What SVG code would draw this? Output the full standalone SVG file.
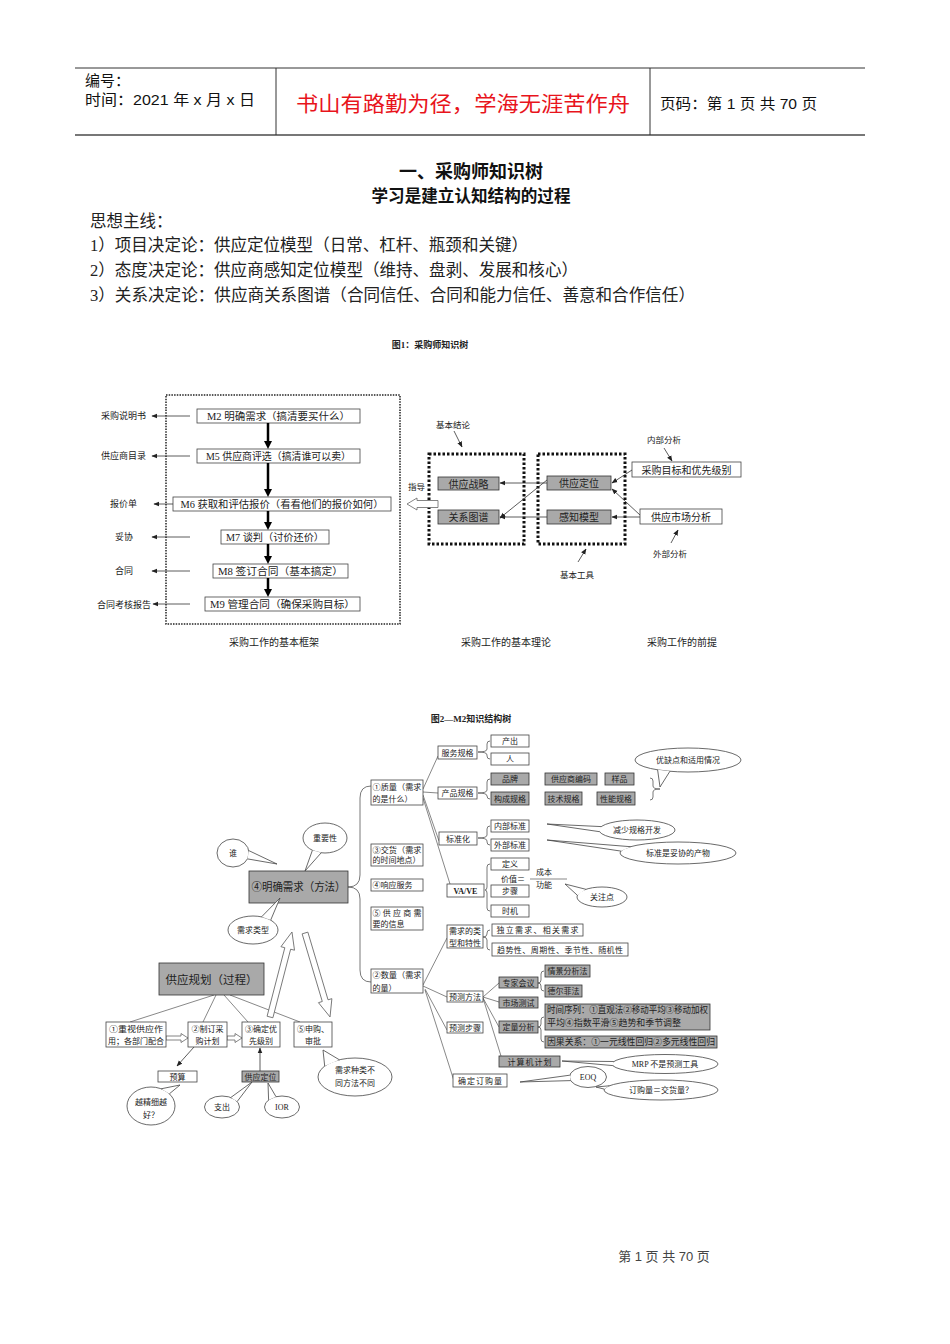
<svg xmlns="http://www.w3.org/2000/svg" width="950" height="1344" viewBox="0 0 950 1344">
<style>
text{font-family:"Liberation Serif","Noto Sans CJK SC",serif;fill:#222}
.hd{font-family:"Liberation Sans","Noto Sans CJK SC",sans-serif;fill:#111}
.cj{font-family:"Noto Sans CJK SC",sans-serif}
.c{text-anchor:middle}
.s{font-size:8px}
.m{font-size:9px}
.bx{fill:#fff;stroke:#444;stroke-width:0.8}
.gb{fill:#a9a9a9;stroke:#333;stroke-width:0.8}
.ln{fill:none;stroke:#555;stroke-width:0.7}
.br{fill:none;stroke:#555;stroke-width:0.8}
.bb{fill:#fff;stroke:#444;stroke-width:0.8}
.tl{fill:#fff;stroke:#444;stroke-width:0.8}
.ha{fill:#fff;stroke:#666;stroke-width:0.8}
.thk{fill:none;stroke:#000;stroke-width:2.5}
.thn{fill:none;stroke:#333;stroke-width:0.8}
</style>
<defs>
<marker id="ah" viewBox="0 0 10 10" refX="5" refY="5" markerWidth="8" markerHeight="8" markerUnits="userSpaceOnUse" orient="auto"><path d="M0,0 L10,5 L0,10 z" fill="#000"/></marker>
<marker id="as" viewBox="0 0 10 10" refX="9" refY="5" markerWidth="6" markerHeight="6" markerUnits="userSpaceOnUse" orient="auto"><path d="M0,1 L10,5 L0,9 z" fill="#222"/></marker>
</defs>

<g id="header">
<line x1="75" y1="68" x2="865" y2="68" stroke="#333" stroke-width="1"/>
<line x1="75" y1="135" x2="865" y2="135" stroke="#777" stroke-width="2"/>
<line x1="276" y1="68" x2="276" y2="135" stroke="#333" stroke-width="1"/>
<line x1="650" y1="68" x2="650" y2="135" stroke="#333" stroke-width="1"/>
<text class="hd" x="85" y="86" font-size="15">编号：</text>
<text class="hd" x="85" y="105" font-size="15" textLength="170" lengthAdjust="spacingAndGlyphs">时间：2021 年 x 月 x 日</text>
<text class="hd c" x="463" y="111" font-size="21" style="fill:#e8141c" textLength="334" lengthAdjust="spacingAndGlyphs">书山有路勤为径，学海无涯苦作舟</text>
<text class="hd" x="660" y="109" font-size="15" textLength="157" lengthAdjust="spacingAndGlyphs">页码：第 1 页  共 70 页</text>
</g>

<g id="intro">
<text class="hd c" x="471" y="178" font-size="18" font-weight="bold">一、采购师知识树</text>
<text class="hd c" x="471" y="202" font-size="16.5" font-weight="bold" textLength="199" lengthAdjust="spacingAndGlyphs">学习是建立认知结构的过程</text>
<text x="90" y="227" font-size="16.5">思想主线：</text>
<text x="90" y="251" font-size="16.5" textLength="438" lengthAdjust="spacingAndGlyphs">1）项目决定论：供应定位模型（日常、杠杆、瓶颈和关键）</text>
<text x="90" y="276" font-size="16.5" textLength="488" lengthAdjust="spacingAndGlyphs">2）态度决定论：供应商感知定位模型（维持、盘剥、发展和核心）</text>
<text x="90" y="301" font-size="16.5" textLength="605" lengthAdjust="spacingAndGlyphs">3）关系决定论：供应商关系图谱（合同信任、合同和能力信任、善意和合作信任）</text>
<text class="c" x="430" y="348" font-size="9" font-weight="bold">图1：采购师知识树</text>
</g>

<g id="fig1-frame">
<rect x="166" y="395" width="234" height="229" fill="none" stroke="#222" stroke-width="1.5" stroke-dasharray="1.5 1.2"/>
<text class="c" x="274" y="646" font-size="10">采购工作的基本框架</text>
<text class="c" x="506" y="646" font-size="10">采购工作的基本理论</text>
<text class="c" x="682" y="646" font-size="10">采购工作的前提</text>
</g>

<g id="n-m2"><rect class="bx" x="197" y="409" width="163" height="14"/><text class="c" x="278.5" y="420" font-size="10" textLength="143" lengthAdjust="spacingAndGlyphs">M2  明确需求（搞清要买什么）</text></g>
<g id="n-m5"><rect class="bx" x="197" y="449" width="163" height="14"/><text class="c" x="278.5" y="460" font-size="10" textLength="145" lengthAdjust="spacingAndGlyphs">M5 供应商评选（搞清谁可以卖）</text></g>
<g id="n-m6"><rect class="bx" x="173" y="497" width="218" height="14"/><text class="c" x="282" y="508" font-size="10" textLength="203" lengthAdjust="spacingAndGlyphs">M6 获取和评估报价（看看他们的报价如何）</text></g>
<g id="n-m7"><rect class="bx" x="221" y="530" width="108" height="14"/><text class="c" x="275" y="541" font-size="10" textLength="98" lengthAdjust="spacingAndGlyphs">M7 谈判（讨价还价）</text></g>
<g id="n-m8"><rect class="bx" x="213" y="564" width="135" height="14"/><text class="c" x="280.5" y="575" font-size="10" textLength="125" lengthAdjust="spacingAndGlyphs">M8  签订合同（基本搞定）</text></g>
<g id="n-m9"><rect class="bx" x="205" y="597" width="155" height="14"/><text class="c" x="282.5" y="608" font-size="10" textLength="145" lengthAdjust="spacingAndGlyphs">M9 管理合同（确保采购目标）</text></g>

<g id="fig1-outputs">
<text x="101" y="419" font-size="9">采购说明书</text>
<text x="101" y="459" font-size="9">供应商目录</text>
<text x="110" y="507" font-size="9">报价单</text>
<text x="115" y="540" font-size="9">妥协</text>
<text x="115" y="574" font-size="9">合同</text>
<text x="97" y="608" font-size="9">合同考核报告</text>
</g>

<g id="fig1-theory">
<rect x="429" y="454" width="95" height="90" fill="none" stroke="#111" stroke-width="3" stroke-dasharray="2.5 2"/>
<rect x="538" y="454" width="87" height="90" fill="none" stroke="#111" stroke-width="3" stroke-dasharray="2.5 2"/>
<g id="n-gyzl"><rect class="gb" x="438" y="477" width="61" height="13"/><text class="c" x="468.5" y="487.5" font-size="10">供应战略</text></g>
<g id="n-gxtp"><rect class="gb" x="438" y="510" width="61" height="14"/><text class="c" x="468.5" y="521" font-size="10">关系图谱</text></g>
<g id="n-gydw"><rect class="gb" x="547" y="476" width="64" height="14"/><text class="c" x="579" y="487" font-size="10">供应定位</text></g>
<g id="n-gzmx"><rect class="gb" x="547" y="510" width="64" height="14"/><text class="c" x="579" y="521" font-size="10">感知模型</text></g>
<g id="n-cgmb"><rect class="bx" x="632" y="462" width="109" height="15"/><text class="c" x="686.5" y="473.5" font-size="10">采购目标和优先级别</text></g>
<g id="n-gysc"><rect class="bx" x="640" y="509" width="82" height="15"/><text class="c" x="681" y="520.5" font-size="10">供应市场分析</text></g>
<text x="436" y="428" font-size="8.5">基本结论</text>
<text x="647" y="443" font-size="8.5">内部分析</text>
<text x="653" y="557" font-size="8.5">外部分析</text>
<text x="560" y="578" font-size="8.5">基本工具</text>
<text x="408" y="490" font-size="8.5">指导</text>
<polygon class="ha" points="407,504 417,498 417,500.5 438,500.5 438,507.5 417,507.5 417,510"/>
</g>

<g id="connectors-fig1">
<path class="thk" d="M268,423 V445" marker-end="url(#ah)"/>
<path class="thk" d="M268,463 V493" marker-end="url(#ah)"/>
<path class="thk" d="M268,511 V526" marker-end="url(#ah)"/>
<path class="thk" d="M268,544 V560" marker-end="url(#ah)"/>
<path class="thk" d="M268,578 V593" marker-end="url(#ah)"/>
<path class="thn" d="M190,416 H152" marker-end="url(#as)"/>
<path class="thn" d="M190,456 H152" marker-end="url(#as)"/>
<path class="thn" d="M173,504 H154" marker-end="url(#as)"/>
<path class="thn" d="M190,537 H152" marker-end="url(#as)"/>
<path class="thn" d="M190,571 H152" marker-end="url(#as)"/>
<path class="thn" d="M190,604 H153" marker-end="url(#as)"/>
<path class="thn" d="M547,483 L500,483" marker-end="url(#as)"/>
<path class="thn" d="M547,480 L500,518" marker-end="url(#as)"/>
<path class="thn" d="M547,517 L500,517" marker-end="url(#as)"/>
<path class="thn" d="M632,470 L612,483" marker-end="url(#as)"/>
<path class="thn" d="M640,515 L612,489" marker-end="url(#as)"/>
<path class="thn" d="M640,517 L612,517" marker-end="url(#as)"/>
<path class="thn" d="M454,431 L462,447" marker-end="url(#as)"/>
<path class="thn" d="M664,448 L672,461" marker-end="url(#as)"/>
<path class="thn" d="M671,543 L678,530" marker-end="url(#as)"/>
<path class="thn" d="M578,562 L586,549" marker-end="url(#as)"/>
</g>

<text class="c" x="471" y="722" font-size="9" font-weight="bold">图2—M2知识结构树</text>

<g id="connectors-fig2">
<path class="br" d="M371,786 Q360,786 360,798 L360,875 Q360,887 348,887 Q360,887 360,899 L360,970 Q360,982 371,982"/>
<path class="ln" d="M423,789 L438,756 M423,792 L438,793 M423,795 L439,841 M423,798 L450,884"/>
<path class="ln" d="M423,985 L447,938 M423,986 L447,997 M425,989 L447,1030 M425,990 L455,1084"/>
<path class="ln" d="M483,997 L499,983 M483,997 L499,1002 M483,998 L499,1027 M483,998 L501,1056"/>
<path class="br" d="M490,741 Q487,741 487,744 L487,749 Q487,752 478,752 Q487,752 487,755 L487,756 Q487,759 490,759"/>
<path class="br" d="M490,779 Q487,779 487,782 L487,790 Q487,793 478,793 Q487,793 487,796 L487,796 Q487,799 490,799"/>
<path class="br" d="M490,826 Q487,826 487,829 L487,835 Q487,838 478,838 Q487,838 487,841 L487,842 Q487,845 490,845"/>
<path class="br" d="M490,864 Q487,864 487,867 L487,887 Q487,890 485,890 Q487,890 487,893 L487,908 Q487,911 490,911"/>
<path class="br" d="M490,930 Q487,930 487,933 L487,934 Q487,937 483,937 Q487,937 487,940 L487,947 Q487,950 490,950"/>
<path class="br" d="M544,971 Q541,971 541,974 L541,980 Q541,983 538,983 Q541,983 541,986 L541,988 Q541,991 544,991"/>
<path class="br" d="M544,1017 Q541,1017 541,1020 L541,1024 Q541,1027 538,1027 Q541,1027 541,1030 L541,1039 Q541,1042 544,1042"/>
<path class="br" d="M650,778 Q653,778 653,781 L653,786 Q653,789 660,789 Q653,789 653,792 L653,797 Q653,800 650,800"/>
<line class="ln" x1="530" y1="879" x2="567" y2="879"/>
<path class="ln" d="M214,995 L130,1022 M216,995 L203,1022 M224,995 L248,1022 M230,995 L300,1022"/>
<path class="thn" d="M194,1047 L177,1066" marker-end="url(#as)"/>
<path class="thn" d="M260,1071 L260,1048" marker-end="url(#as)"/>
<polygon class="ha" points="0,-3 70.8,-3 70.8,-7 87.8,0 70.8,7 70.8,3 0,3" transform="translate(270,1017) rotate(-75.5)"/>
<polygon class="ha" points="0,-3 70.6,-3 70.6,-7 87.6,0 70.6,7 70.6,3 0,3" transform="translate(305,933) rotate(73.4)"/>
<polygon class="ha" points="166,1036 181,1036 181,1033.5 188,1038 181,1042.5 181,1040 166,1040"/>
<polygon class="ha" points="227,1036 235,1036 235,1033.5 242,1038 235,1042.5 235,1040 227,1040"/>
</g>

<g id="n-mqxq"><rect class="gb" x="249" y="871" width="99" height="32"/><text class="cj c" x="298.5" y="891" font-size="11.5" textLength="94" lengthAdjust="spacingAndGlyphs">④明确需求（方法）</text></g>
<g id="n-gygh"><rect class="gb" x="159" y="963" width="105" height="32"/><text class="cj c" x="211.5" y="983.5" font-size="11.5" textLength="92" lengthAdjust="spacingAndGlyphs">供应规划（过程）</text></g>

<g id="n-s1"><rect class="bx" x="106" y="1022" width="60" height="25"/><text class="cj c s" x="136" y="1032" textLength="54" lengthAdjust="spacingAndGlyphs">①重视供应作</text><text class="cj c s" x="136" y="1044" textLength="56" lengthAdjust="spacingAndGlyphs">用；各部门配合</text></g>
<g id="n-s2"><rect class="bx" x="188" y="1022" width="39" height="25"/><text class="cj c s" x="207.5" y="1032">②制订采</text><text class="cj c s" x="207.5" y="1044">购计划</text></g>
<g id="n-s3"><rect class="bx" x="242" y="1022" width="38" height="25"/><text class="cj c s" x="261" y="1032">③确定优</text><text class="cj c s" x="261" y="1044">先级别</text></g>
<g id="n-s5"><rect class="bx" x="294" y="1022" width="38" height="25"/><text class="cj c s" x="313" y="1032">⑤申购、</text><text class="cj c s" x="313" y="1044">审批</text></g>
<g id="n-ys"><rect class="bx" x="158" y="1071" width="39" height="11"/><text class="c s" x="177.5" y="1079.5">预算</text></g>
<g id="n-gydw2"><rect class="gb" x="242" y="1071" width="37" height="11"/><text class="c s" x="260.5" y="1079.5">供应定位</text></g>

<g id="n-zl"><rect class="bx" x="371" y="780" width="52" height="25"/><text class="cj s" x="372.5" y="789.5" textLength="49" lengthAdjust="spacingAndGlyphs">①质量（需求</text><text class="s" x="372.5" y="802">的是什么）</text></g>
<g id="n-jh"><rect class="bx" x="371" y="844" width="52" height="22"/><text class="cj s" x="372.5" y="852.5" textLength="49" lengthAdjust="spacingAndGlyphs">③交货（需求</text><text class="s" x="372.5" y="863">的时间地点）</text></g>
<g id="n-xy"><rect class="bx" x="371" y="879" width="52" height="12"/><text class="cj s" x="372.5" y="888">④响应服务</text></g>
<g id="n-xx"><rect class="bx" x="371" y="907" width="52" height="23"/><text class="cj s" x="372.5" y="916" textLength="49" lengthAdjust="spacing">⑤供应商需</text><text class="s" x="372.5" y="927">要的信息</text></g>
<g id="n-sl"><rect class="bx" x="371" y="969" width="52" height="24"/><text class="cj s" x="372.5" y="978" textLength="49" lengthAdjust="spacingAndGlyphs">②数量（需求</text><text class="s" x="372.5" y="991">的量）</text></g>

<g id="n-fwgg"><rect class="bx" x="438" y="746" width="39" height="13"/><text class="c s" x="457.5" y="755.5">服务规格</text></g>
<g id="n-cpgg"><rect class="bx" x="438" y="787" width="39" height="12"/><text class="c s" x="457.5" y="796">产品规格</text></g>
<g id="n-bzh"><rect class="bx" x="439" y="832" width="38" height="13"/><text class="c s" x="458" y="841.5">标准化</text></g>
<g id="n-vave"><rect class="bx" x="447" y="884" width="37" height="13"/><text class="c" x="465.5" y="893.5" font-size="8" font-weight="bold">VA/VE</text></g>
<g id="n-cc"><rect class="bx" x="491" y="735" width="38" height="12"/><text class="c s" x="510" y="744">产出</text></g>
<g id="n-r"><rect class="bx" x="491" y="753" width="38" height="12"/><text class="c s" x="510" y="762">人</text></g>
<g id="n-pp"><rect class="gb" x="491" y="773" width="38" height="12"/><text class="c s" x="510" y="782">品牌</text></g>
<g id="n-gysbm"><rect class="gb" x="545" y="773" width="52" height="12"/><text class="c s" x="571" y="782">供应商编码</text></g>
<g id="n-yp"><rect class="gb" x="605" y="773" width="29" height="12"/><text class="c s" x="619.5" y="782">样品</text></g>
<g id="n-gcgg"><rect class="gb" x="491" y="792" width="38" height="13"/><text class="c s" x="510" y="801.5">构成规格</text></g>
<g id="n-jsgg"><rect class="gb" x="545" y="792" width="37" height="13"/><text class="c s" x="563.5" y="801.5">技术规格</text></g>
<g id="n-xngg"><rect class="gb" x="597" y="792" width="38" height="13"/><text class="c s" x="616" y="801.5">性能规格</text></g>
<g id="n-nbbz"><rect class="bx" x="491" y="820" width="38" height="12"/><text class="c s" x="510" y="829">内部标准</text></g>
<g id="n-wbbz"><rect class="bx" x="491" y="839" width="38" height="12"/><text class="c s" x="510" y="848">外部标准</text></g>
<g id="n-dy"><rect class="bx" x="491" y="858" width="38" height="12"/><text class="c s" x="510" y="867">定义</text></g>
<g id="n-jz"><text class="s" x="501" y="882">价值＝</text><text class="s" x="536" y="875">成本</text><text class="s" x="536" y="888">功能</text></g>
<g id="n-bz"><rect class="bx" x="491" y="885" width="38" height="12"/><text class="c s" x="510" y="894">步骤</text></g>
<g id="n-sj"><rect class="bx" x="491" y="905" width="38" height="12"/><text class="c s" x="510" y="914">时机</text></g>

<g id="n-xqlx"><rect class="bx" x="447" y="925" width="36" height="23"/><text class="c s" x="465" y="934">需求的类</text><text class="c s" x="465" y="946">型和特性</text></g>
<g id="n-dlxq"><rect class="bx" x="492" y="924" width="91" height="12"/><text class="c s" x="537.5" y="933" textLength="82" lengthAdjust="spacing">独立需求、相关需求</text></g>
<g id="n-qsx"><rect class="bx" x="492" y="943" width="136" height="13"/><text class="c s" x="560" y="952.5" textLength="126" lengthAdjust="spacing">趋势性、周期性、季节性、随机性</text></g>
<g id="n-ycff"><rect class="bx" x="447" y="991" width="36" height="11"/><text class="c s" x="465" y="999.5">预测方法</text></g>
<g id="n-ycbz"><rect class="bx" x="447" y="1022" width="36" height="11"/><text class="c s" x="465" y="1030.5">预测步骤</text></g>
<g id="n-qddgl"><rect class="bx" x="453" y="1074" width="54" height="13"/><text class="c s" x="480" y="1083.5" textLength="44" lengthAdjust="spacing">确定订购量</text></g>
<g id="n-zjhy"><rect class="gb" x="499" y="977" width="39" height="11"/><text class="c s" x="518.5" y="985.5">专家会议</text></g>
<g id="n-sccs"><rect class="gb" x="499" y="997" width="39" height="11"/><text class="c s" x="518.5" y="1005.5">市场测试</text></g>
<g id="n-dlfx"><rect class="gb" x="499" y="1021" width="39" height="12"/><text class="c s" x="518.5" y="1030">定量分析</text></g>
<g id="n-jsjjh"><rect class="gb" x="499" y="1056" width="61" height="11"/><text class="c s" x="529.5" y="1064.5" textLength="44" lengthAdjust="spacing">计算机计划</text></g>
<g id="n-qjfx"><rect class="gb" x="545" y="965" width="45" height="12"/><text class="c s" x="567.5" y="974">情景分析法</text></g>
<g id="n-delf"><rect class="gb" x="545" y="985" width="37" height="12"/><text class="c s" x="563.5" y="994">德尔菲法</text></g>
<g id="n-sjxl"><rect class="gb" x="545" y="1004" width="165" height="26"/><text class="cj m" x="547" y="1013" textLength="161" lengthAdjust="spacingAndGlyphs">时间序列：①直观法②移动平均③移动加权</text><text class="cj m" x="547" y="1026" textLength="134" lengthAdjust="spacingAndGlyphs">平均④指数平滑⑤趋势和季节调整</text></g>
<g id="n-ygxx"><rect class="gb" x="545" y="1036" width="172" height="12"/><text class="cj m" x="547" y="1045" textLength="168" lengthAdjust="spacingAndGlyphs">因果关系：①一元线性回归②多元线性回归</text></g>

<g id="b-shui"><ellipse class="bb" cx="233" cy="853" rx="16" ry="14"/><path class="tl" d="M248.8,850.6 L277,864 L247.5,858.9"/><text class="c s" x="233" y="856">谁</text></g>
<g id="b-zyx"><ellipse class="bb" cx="325" cy="838" rx="22" ry="15"/><path class="tl" d="M321.2,852.8 L305,871 L312.4,850.3"/><text class="c s" x="325" y="841">重要性</text></g>
<g id="b-xqlx"><ellipse class="bb" cx="253" cy="930" rx="25" ry="14"/><path class="tl" d="M270.7,920.1 L280,898 L261.6,916.8"/><text class="c s" x="253" y="933">需求类型</text></g>
<g id="b-yjx"><ellipse class="bb" cx="151" cy="1106" rx="24" ry="19"/><path class="tl" d="M169.4,1093.8 L180,1085 L161.1,1088.8"/><text class="c s" x="151" y="1105">越精细越</text><text class="c s" x="151" y="1118">好？</text></g>
<g id="b-zc"><ellipse class="bb" cx="222" cy="1107" rx="17.5" ry="11"/><path class="tl" d="M237.2,1101.5 L252,1082 L230.8,1097.5"/><text class="c s" x="222" y="1110">支出</text></g>
<g id="b-ior"><ellipse class="bb" cx="282" cy="1107" rx="17.5" ry="11"/><path class="tl" d="M276,1096.7 L268,1083 L268.6,1099.9"/><text class="c" x="282" y="1110" font-size="8">IOR</text></g>
<g id="b-xqzl"><ellipse class="bb" cx="355" cy="1077" rx="37" ry="19"/><path class="tl" d="M339.4,1059.8 L323,1050 L324.7,1066.1"/><text class="c s" x="355" y="1073">需求种类不</text><text class="c s" x="355" y="1086">同方法不同</text></g>
<g id="b-yqd"><ellipse class="bb" cx="688" cy="760" rx="53" ry="12"/><path class="tl" d="M669.9,771.3 L660,787 L657.6,769.8"/><text class="c s" x="688" y="763">优缺点和适用情况</text></g>
<g id="b-jsgg"><ellipse class="bb" cx="637" cy="830" rx="38" ry="10"/><path class="tl" d="M599.6,831.7 L547,824 L601.3,826.6"/><text class="c s" x="637" y="833">减少规格开发</text></g>
<g id="b-bzts"><ellipse class="bb" cx="678" cy="853" rx="58" ry="11"/><path class="tl" d="M620.9,851.1 L547,840 L630.5,846.7"/><text class="c s" x="678" y="856">标准是妥协的产物</text></g>
<g id="b-gzd"><ellipse class="bb" cx="602" cy="897" rx="25" ry="10"/><path class="tl" d="M577.4,895.3 L565,884 L585.9,889.3"/><text class="c s" x="602" y="900">关注点</text></g>
<g id="b-mrp"><ellipse class="bb" cx="665" cy="1064" rx="53" ry="9.5"/><path class="tl" d="M612.8,1065.6 L562,1061 L613.8,1061.5"/><text class="c s" x="665" y="1067">MRP 不是预测工具</text></g>
<g id="b-eoq"><ellipse class="bb" cx="588" cy="1077" rx="18.5" ry="10.5"/><path class="tl" d="M570.6,1080.6 L520,1082 L569.8,1075.2"/><text class="c" x="588" y="1080" font-size="8">EOQ</text></g>
<g id="b-dgl"><ellipse class="bb" cx="661" cy="1090" rx="57" ry="10"/><path class="tl" d="M604.2,1089.1 L596,1087 L609.3,1085.8"/><text class="c s" x="661" y="1093">订购量＝交货量？</text></g>

<g id="footer"><text class="hd c" x="664" y="1261" font-size="13" style="fill:#444">第 1 页 共 70 页</text></g>
</svg>
